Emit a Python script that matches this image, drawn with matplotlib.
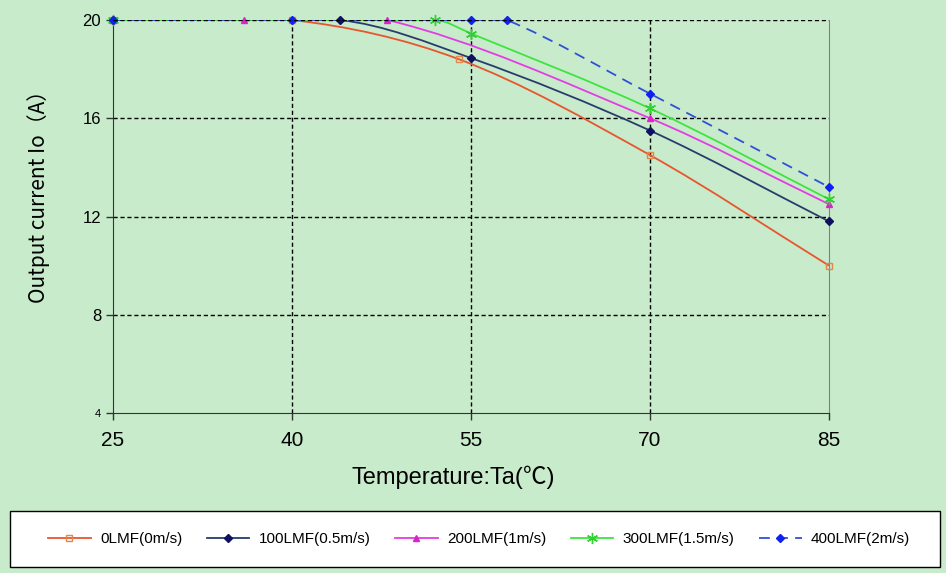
import matplotlib
matplotlib.use("Agg")
import matplotlib.pyplot as plt
from matplotlib.path import Path
from matplotlib.patches import PathPatch, Rectangle
from matplotlib.lines import Line2D
import numpy as np

# data
t_0lmf = [25, 40, 54, 70, 85]
i_0lmf = [20, 20, 18.4, 14.5, 10.0]
t_100lmf = [25, 44, 55, 70, 85]
i_100lmf = [20, 20, 18.45, 15.5, 11.8]
t_200lmf = [25, 36, 48, 70, 85]
i_200lmf = [20, 20, 20, 16.0, 12.5]
t_300lmf = [25, 52, 55, 70, 85]
i_300lmf = [20, 20, 19.45, 16.4, 12.7]
t_400lmf = [25, 40, 55, 58, 70, 85]
i_400lmf = [20, 20, 20, 20, 17.0, 13.2]

labels = ['0LMF(0m/s)', '100LMF(0.5m/s)', '200LMF(1m/s)', '300LMF(1.5m/s)', '400LMF(2m/s)']
xticks = [25, 40, 55, 70, 85]
yticks = [4, 8, 12, 16, 20]

bg = '#c8ebcb'
narrow = ['Liberation Sans']


def smooth_path(xs, ys):
    # smoothed line like excel: cubic hermite through the points, drawn as bezier
    x = np.asarray(xs, float)
    y = np.asarray(ys, float)
    n = len(x)
    m = np.zeros(n)
    for k in range(n):
        a = max(k - 1, 0)
        b = min(k + 1, n - 1)
        m[k] = (y[b] - y[a]) / (x[b] - x[a])
    verts = [(x[0], y[0])]
    codes = [Path.MOVETO]
    for k in range(n - 1):
        h = x[k + 1] - x[k]
        c1 = (x[k] + h / 3, min(20, y[k] + m[k] * h / 3))
        c2 = (x[k + 1] - h / 3, min(20, y[k + 1] - m[k + 1] * h / 3))
        verts += [c1, c2, (x[k + 1], y[k + 1])]
        codes += [Path.CURVE4] * 3
    return Path(verts, codes)


fig = plt.figure(figsize=(9.46, 5.73), dpi=100, facecolor=bg)
ax = fig.add_axes([0.1195, 0.2792, 0.7568, 0.6859])
ax.set_facecolor(bg)

series = [
    (t_0lmf, i_0lmf, '#e8552e', '-', dict(marker='s', ms=5, mfc='none', mec='#e0884a', mew=1)),
    (t_100lmf, i_100lmf, '#283c6c', '-', dict(marker='D', ms=4, mfc='#101060', mec='#101060')),
    (t_200lmf, i_200lmf, '#e43ce4', '-', dict(marker='^', ms=5, mfc='#e020d0', mec='#e020d0')),
    (t_300lmf, i_300lmf, '#3ee43e', '-', dict(marker=(6, 2, 0), ms=8, mec='#30d030', mew=1)),
    (t_400lmf, i_400lmf, '#3050d8', (0, (6, 4)), dict(marker='D', ms=4, mfc='#1020f0', mec='#1020f0')),
]

handles = []
for (xs, ys, col, ls, mk), lab in zip(series, labels):
    patch = PathPatch(smooth_path(xs, ys), fill=False, edgecolor=col, lw=1.3, linestyle=ls, zorder=3)
    ax.add_patch(patch)
    ax.plot(xs, ys, linestyle='none', zorder=4, clip_on=False, **mk)
    handles.append(Line2D([], [], color=col, lw=1.3, linestyle=ls, **mk))

ax.set_xlim(25, 85)
ax.set_ylim(4, 20)
ax.set_xticks(xticks)
ax.set_yticks(yticks)
ax.set_xticklabels([str(v) for v in xticks], fontsize=15, family=narrow)
ax.set_yticklabels([str(v) for v in yticks], family=narrow)
for lbl, v in zip(ax.get_yticklabels(), yticks):
    lbl.set_fontsize(8 if v == 4 else 12)
ax.tick_params(axis='both', direction='out', length=5, width=1, color='#333333')
ax.tick_params(axis='x', pad=8)

for v in [40, 55, 70]:
    ax.axvline(v, color='black', lw=1, linestyle=(0, (3, 2)), zorder=1)
for v in [8, 12, 16]:
    ax.axhline(v, color='black', lw=1, linestyle=(0, (3, 2)), zorder=1)
ax.axhline(20, color='black', lw=1, linestyle=(0, (3, 2)), zorder=5)

ax.spines['top'].set_visible(False)
ax.spines['right'].set_color('#808080')
ax.spines['left'].set_color('#333333')
ax.spines['bottom'].set_color('#333333')

ax.set_ylabel('Output current Io（A）', fontsize=15, family=['Noto Sans CJK SC', 'DejaVu Sans'])
ax.yaxis.set_label_coords(-0.088, 0.565)
ax.set_xlabel('Temperature:Ta(℃)', fontsize=17, family=narrow + ['Noto Sans CJK SC'])
ax.xaxis.set_label_coords(0.475, -0.135)

# legend box drawn by hand so it can be wider than its entries
fig.patches.append(Rectangle((10 / 946, 1 - 567 / 573), 930 / 946, 56 / 573, transform=fig.transFigure,
                             facecolor='white', edgecolor='black', lw=1, zorder=5))
leg = fig.legend(handles=handles, labels=labels, loc='center', ncol=5,
                 bbox_to_anchor=(479 / 946, 1 - 539 / 573),
                 prop={'family': narrow, 'size': 11}, frameon=False,
                 handlelength=2.8, handletextpad=0.6, columnspacing=1.6)
leg.set_zorder(6)

fig.savefig('out.png', dpi=100, facecolor=bg)
